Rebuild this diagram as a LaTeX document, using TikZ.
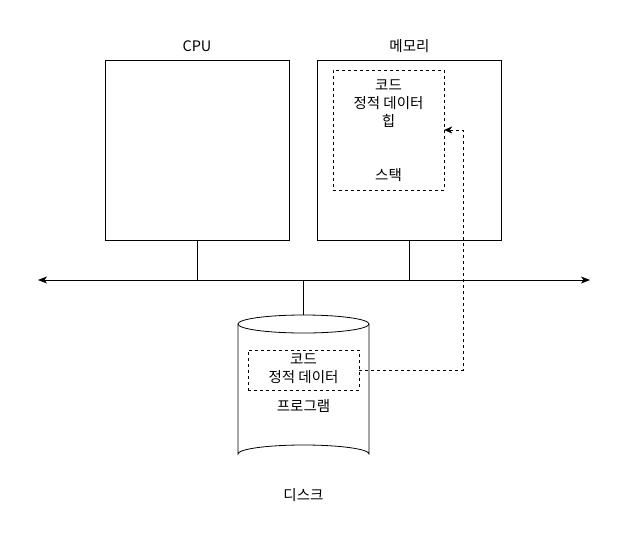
\documentclass[tikz,border=0pt]{standalone}
\usepackage{fontspec}
\setmainfont{Noto Sans CJK KR}
\usetikzlibrary{positioning}
\usetikzlibrary{arrows.meta,shapes}
\tikzstyle{unit}=[rectangle,draw,thick,minimum width=184pt,minimum height=180pt,inner sep=0pt]
\tikzstyle{segment}=[rectangle,draw,dashed,minimum width=111pt,inner sep=0pt]
\tikzstyle{disk}=[rectangle,minimum width=131pt,minimum height=148pt,inner sep=0pt]
\tikzstyle{label}=[font=\fontsize{14.5}{18}\selectfont,align=center]
\tikzstyle{bus} = [draw,thick,{Stealth[length=9pt,width=7pt,inset=2.5pt]}-{Stealth[length=9pt,width=7pt,inset=2.5pt]}]
\tikzstyle{link} = [draw]

\begin{document}
\begin{tikzpicture}[x=1pt,y=-1pt]
    \useasboundingbox (0,0) rectangle (629,541);

    % the two units on the bus
    \foreach \pos/\name/\text/\tpos in {{(197,150)/cpu/CPU/(197,46)}, {(409.5,150)/mem/메모리/(409.5,46)}}
    {
        \node[unit] (\name) at \pos {};
        \node[label] (\name title) at \tpos {\text};
    }

    % process layout in memory
    \node[segment,minimum height=120pt] (space) at (388.5,130) {};
    \node[label] (heap) at (388.5,104) {코드\\정적 데이터\\힙};
    \node[label] (stack) at (388.5,175) {스택};

    % the bus
    \coordinate (busL) at (38,280);
    \coordinate (busR) at (590,280);
    \path[bus] (busL) -- (busR);

    % disk with the program
    \node[disk] (hdd) at (303.5,389) {};
    \draw[thick] (238,324) -- (238,454) arc[start angle=180,end angle=360,x radius=65.5,y radius=9] -- (369,324);
    \draw[thick] (303.5,324) ellipse [x radius=65.5,y radius=9];
    \node[segment,minimum height=40pt] (prog) at (303.5,370) {};
    \node[label] (progtext) at (303.5,369) {코드\\정적 데이터};
    \node[label] (progtitle) at (303.5,406) {프로그램};
    \node[label] (hddtitle) at (303.5,495) {디스크};

    % connect the units with the bus
    \foreach \name in {cpu, mem}
        \path[link] (\name.south) -- (\name.south |- busL);
    \path[link] (hdd.north) -- (hdd.north |- busL);

    % loading the program
    \coordinate (turn) at (463,130);
    \draw[dashed,-{Stealth[length=8pt,width=7pt,inset=2.5pt]}] (prog.east) -| (turn) -- (space.east);

\end{tikzpicture}
\end{document}
